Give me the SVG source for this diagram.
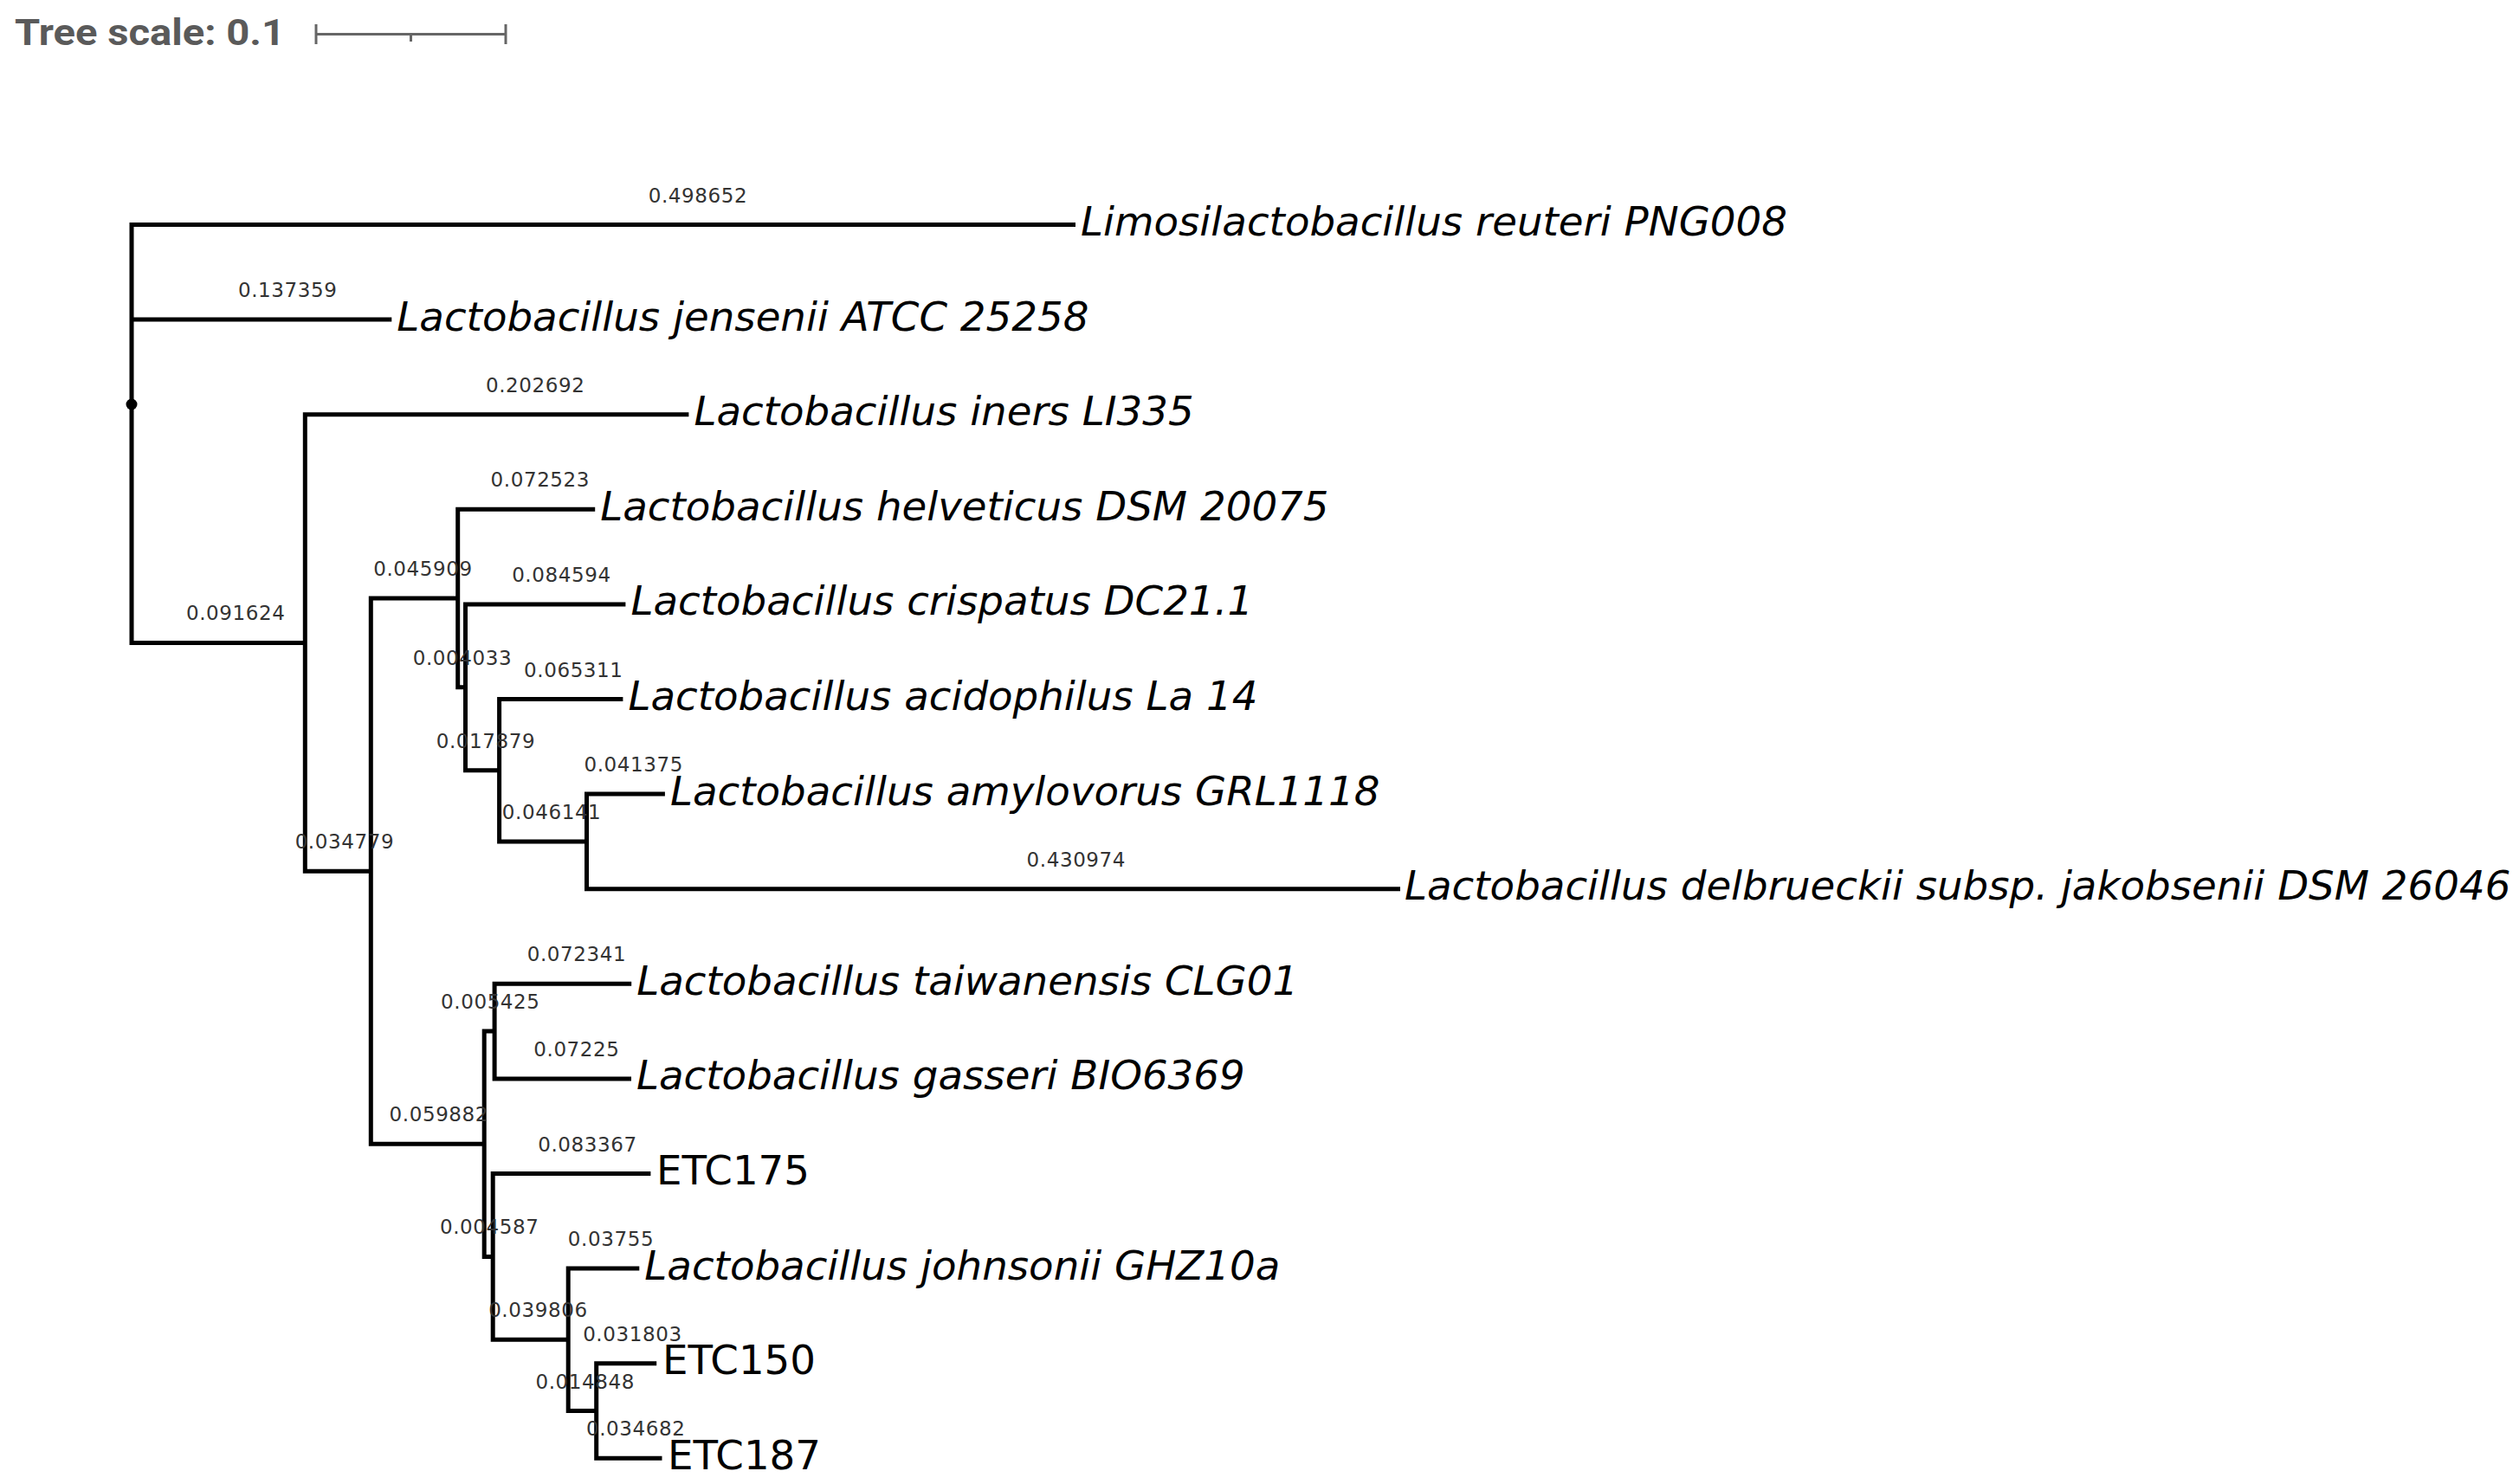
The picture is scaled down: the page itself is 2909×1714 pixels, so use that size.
<svg xmlns="http://www.w3.org/2000/svg" width="2909" height="1714" viewBox="0 0 2909 1714">
<style>
.br{fill:none;stroke:#000;stroke-width:5;stroke-linejoin:miter;stroke-linecap:butt}
.bl{font-family:"DejaVu Sans",sans-serif;font-size:23px;fill:#333;text-anchor:middle;letter-spacing:0.6px}
.lf{font-family:"DejaVu Sans",sans-serif;font-size:46.7px;font-style:italic;fill:#000}
.lr{font-family:"DejaVu Sans",sans-serif;font-size:46.7px;fill:#000}
.sc{font-family:Roboto,"Liberation Sans",sans-serif;font-weight:bold;font-size:42px;fill:#5a5a5a}
</style>
<rect width="2909" height="1714" fill="#fff"/>
<g id="scale">
<text class="sc" x="17" y="52" textLength="312" lengthAdjust="spacingAndGlyphs">Tree scale: 0.1</text>
<path d="M365 39.5H584M365 28V51M584 28V51M474.5 39.5V48" fill="none" stroke="#666" stroke-width="3"/>
</g>
<g id="connectors">
<path class="br" d="M1242 259.5H152V742.4H352.3"/>
<path class="br" d="M152 369.1H452.3"/>
<circle cx="152" cy="467" r="6.5" fill="#000"/>
<path class="br" d="M795.4 478.7H352.3V1006.15H428.3"/>
<path class="br" d="M528.7 691.05H428.3V1321.25H559.2"/>
<path class="br" d="M687.2 588.3H528.7V793.8H537.5"/>
<path class="br" d="M722.4 697.9H537.5V889.7H576.6"/>
<path class="br" d="M719.4 807.5H576.6V971.9H677.5"/>
<path class="br" d="M767.9 917.1H677.5V1026.7H1617"/>
<path class="br" d="M571.1 1191.1H559.2V1451.4H569.2"/>
<path class="br" d="M729.2 1136.3H571.1V1245.9H729"/>
<path class="br" d="M751.4 1355.5H569.2V1547.3H656.2"/>
<path class="br" d="M738.3 1465.1H656.2V1629.5H688.7"/>
<path class="br" d="M758.2 1574.7H688.7V1684.3H764.5"/>
<g id="branch-lengths">
<text class="bl" x="806" y="233.5">0.498652</text>
<text class="bl" x="332.2" y="343.1">0.137359</text>
<text class="bl" x="272.2" y="716.4">0.091624</text>
<text class="bl" x="618.2" y="452.7">0.202692</text>
<text class="bl" x="397.9" y="980.2">0.034779</text>
<text class="bl" x="488.5" y="665">0.045909</text>
<text class="bl" x="623.8" y="562.3">0.072523</text>
<text class="bl" x="534" y="767.8">0.004033</text>
<text class="bl" x="648.4" y="671.9">0.084594</text>
<text class="bl" x="561" y="863.7">0.017879</text>
<text class="bl" x="662.3" y="781.5">0.065311</text>
<text class="bl" x="637.1" y="945.9">0.046141</text>
<text class="bl" x="731.7" y="891.1">0.041375</text>
<text class="bl" x="1242.8" y="1000.7">0.430974</text>
<text class="bl" x="506.8" y="1295.3">0.059882</text>
<text class="bl" x="566.3" y="1165.1">0.005425</text>
<text class="bl" x="666" y="1110.3">0.072341</text>
<text class="bl" x="665.9" y="1219.9">0.07225</text>
<text class="bl" x="565.2" y="1425.4">0.004587</text>
<text class="bl" x="678.5" y="1329.5">0.083367</text>
<text class="bl" x="621.4" y="1521.3">0.039806</text>
<text class="bl" x="705.5" y="1439.1">0.03755</text>
<text class="bl" x="675.7" y="1603.5">0.014848</text>
<text class="bl" x="730.4" y="1548.7">0.031803</text>
<text class="bl" x="734.2" y="1658.3">0.034682</text>
</g>
</g>
<g id="leaf-reuteri"><text class="lf" x="1248" y="272">Limosilactobacillus reuteri PNG008</text></g>
<g id="leaf-jensenii"><text class="lf" x="458.3" y="381.6">Lactobacillus jensenii ATCC 25258</text></g>
<g id="leaf-iners"><text class="lf" x="801.4" y="491.2">Lactobacillus iners LI335</text></g>
<g id="leaf-helveticus"><text class="lf" x="693.2" y="600.8">Lactobacillus helveticus DSM 20075</text></g>
<g id="leaf-crispatus"><text class="lf" x="728.4" y="710.4">Lactobacillus crispatus DC21.1</text></g>
<g id="leaf-acidophilus"><text class="lf" x="725.4" y="820">Lactobacillus acidophilus La 14</text></g>
<g id="leaf-amylovorus"><text class="lf" x="773.9" y="929.6">Lactobacillus amylovorus GRL1118</text></g>
<g id="leaf-delbrueckii"><text class="lf" x="1622" y="1039.2">Lactobacillus delbrueckii subsp. jakobsenii DSM 26046</text></g>
<g id="leaf-taiwanensis"><text class="lf" x="735.2" y="1148.8">Lactobacillus taiwanensis CLG01</text></g>
<g id="leaf-gasseri"><text class="lf" x="735" y="1258.4">Lactobacillus gasseri BIO6369</text></g>
<g id="leaf-ETC175"><text class="lr" x="758" y="1368">ETC175</text></g>
<g id="leaf-johnsonii"><text class="lf" x="744.3" y="1477.6">Lactobacillus johnsonii GHZ10a</text></g>
<g id="leaf-ETC150"><text class="lr" x="765" y="1587.2">ETC150</text></g>
<g id="leaf-ETC187"><text class="lr" x="771" y="1696.8">ETC187</text></g>
</svg>
